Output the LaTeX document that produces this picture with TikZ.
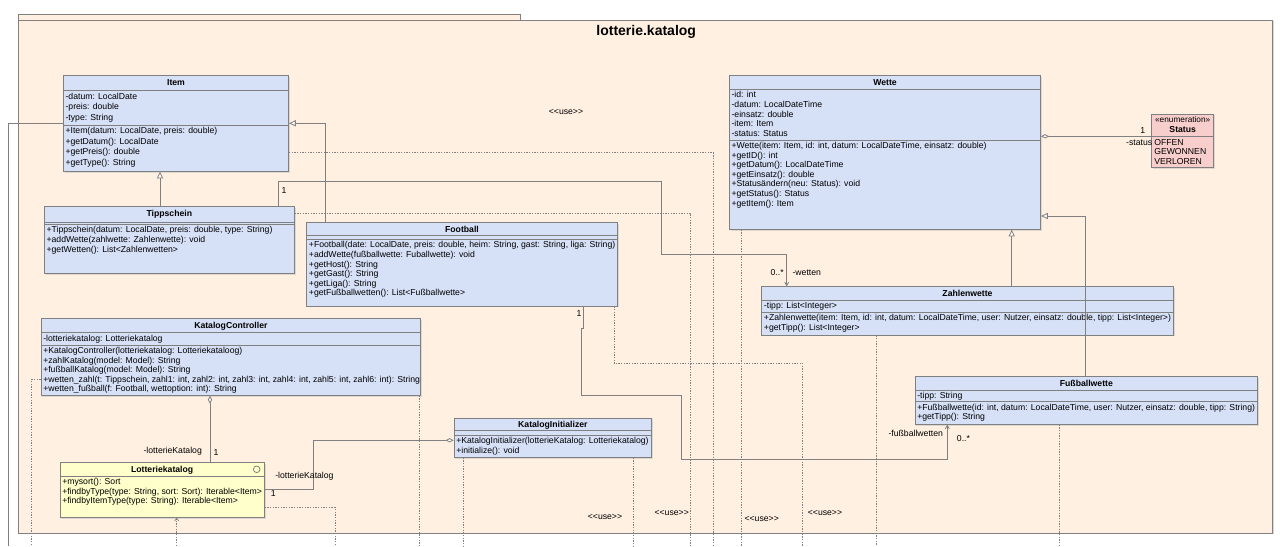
\documentclass[tikz,border=0pt]{standalone}
\usepackage{fontspec}
\setmainfont{Liberation Sans}
\usetikzlibrary{arrows.meta, fit, shadows}

\definecolor{pkgfill}{RGB}{255,240,225}
\definecolor{classfill}{RGB}{214,224,247}
\definecolor{ifacefill}{RGB}{255,255,204}
\definecolor{enumfill}{RGB}{248,206,204}
\definecolor{umlgray}{RGB}{128,128,128}

\tikzstyle{pkgframe} = [rectangle, draw=umlgray, fill=pkgfill, inner sep=0pt, line width=0.6pt, drop shadow={shadow xshift=1pt, shadow yshift=-1pt, fill=black!30}]
\tikzstyle{pkgtab} = [rectangle, draw=umlgray, fill=pkgfill, inner sep=0pt, line width=0.6pt]
\tikzstyle{pkgtitle} = [anchor=base, inner sep=0pt, font=\fontsize{10.5}{12}\selectfont\bfseries]
\tikzstyle{pclass} = [rectangle, draw=umlgray, fill=classfill, inner sep=0pt, line width=0.6pt, drop shadow={shadow xshift=1pt, shadow yshift=-1pt, fill=black!25}]
\tikzstyle{pface} = [pclass, fill=ifacefill]
\tikzstyle{penum} = [pclass, fill=enumfill]
\tikzstyle{ctitle} = [anchor=base, inner sep=0pt, font=\fontsize{6.5}{7.2}\selectfont\bfseries]
\tikzstyle{members} = [anchor=north west, align=left, inner sep=0pt, font=\fontsize{6.5}{7.2}\selectfont]
\tikzstyle{sepline} = [draw=umlgray, line width=0.6pt]
\tikzstyle{lbl} = [anchor=base west, inner sep=0pt, font=\fontsize{6.5}{7.2}\selectfont]
\tikzstyle{uselbl} = [inner sep=0pt, font=\fontsize{6.5}{7}\selectfont]
\tikzstyle{link} = [draw=umlgray, line width=0.6pt]
\tikzstyle{inherit} = [link, -{Triangle[fill=white, length=5pt, width=4.6pt]}]
\tikzstyle{assoc} = [link, -{Straight Barb[length=2.5pt, width=3pt]}]
\tikzstyle{aggr} = [link, {Diamond[fill=white, length=6pt, width=3.2pt]}-]
\tikzstyle{usedep} = [draw=umlgray, line width=0.5pt, dash pattern=on 1pt off 1pt]

\begin{document}
\begin{tikzpicture}[x=0.75pt, y=-0.75pt]
\useasboundingbox (0,0) rectangle (1284,546);
\coordinate (bottom) at (0,546);

% package
\node (pkgtab) [pkgtab, fit={(18,14) (520,20)}] {};
\node (pkg) [pkgframe, fit={(18,20) (1272.7,533)}] {};
\node (pkgname) [pkgtitle] at (646.2,35) {lotterie.katalog};

% Item
\node (item) [pclass, fit={(63.3,75.3) (288.7,171.3)}] {};
\node (itemname) [ctitle] at (item.north |- 0,85.7) {Item};
\draw [sepline] (item.west |- 0,90) -- (item.east |- 0,90);
\draw [sepline] (item.west |- 0,125.3) -- (item.east |- 0,125.3);
\node (itemattr) [members, font=\fontsize{6.5}{7.7}\selectfont] at (65.3,93) {-datum: LocalDate\\-preis: double\\-type: String};
\node (itemops) [members, font=\fontsize{6.5}{7.9}\selectfont] at (65.3,127.3) {+Item(datum: LocalDate, preis: double)\\+getDatum(): LocalDate\\+getPreis(): double\\+getType(): String};

% Tippschein
\node (tipp) [pclass, fit={(44.3,206.7) (294.3,273.3)}] {};
\node (tippname) [ctitle] at (tipp.north |- 0,216.7) {Tippschein};
\draw [sepline] (tipp.west |- 0,222.7) -- (tipp.east |- 0,222.7);
\draw [sepline] (tipp.west |- 0,224.3) -- (tipp.east |- 0,224.3);
\node (tippops) [members] at (46.3,226.3) {+Tippschein(datum: LocalDate, preis: double, type: String)\\+addWette(zahlwette: Zahlenwette): void\\+getWetten(): List<Zahlenwetten>};

% Football
\node (football) [pclass, fit={(306.7,222.7) (617.3,306)}] {};
\node (footballname) [ctitle] at (football.north |- 0,232) {Football};
\draw [sepline] (football.west |- 0,235) -- (football.east |- 0,235);
\draw [sepline] (football.west |- 0,239.3) -- (football.east |- 0,239.3);
\node (footballops) [members] at (308.7,241.3) {+Football(date: LocalDate, preis: double, heim: String, gast: String, liga: String)\\+addWette(fußballwette: Fuballwette): void\\+getHost(): String\\+getGast(): String\\+getLiga(): String\\+getFußballwetten(): List<Fußballwette>};

% KatalogController
\node (controller) [pclass, fit={(41,318.3) (420.7,395.3)}] {};
\node (controllername) [ctitle] at (controller.north |- 0,328) {KatalogController};
\draw [sepline] (controller.west |- 0,332.7) -- (controller.east |- 0,332.7);
\draw [sepline] (controller.west |- 0,345) -- (controller.east |- 0,345);
\node (controllerattr) [members] at (43,334.7) {-lotteriekatalog: Lotteriekatalog};
\node (controllerops) [members] at (43,347) {+KatalogController(lotteriekatalog: Lotteriekataloog)\\+zahlKatalog(model: Model): String\\+fußballKatalog(model: Model): String\\+wetten\_zahl(t: Tippschein, zahl1: int, zahl2: int, zahl3: int, zahl4: int, zahl5: int, zahl6: int): String\\+wetten\_fußball(f: Football, wettoption: int): String};

% Lotteriekatalog
\node (katalog) [pface, fit={(60,462.3) (264.3,517.3)}] {};
\node (katalogname) [ctitle] at (katalog.north |- 0,472.3) {Lotteriekatalog};
\draw [sepline] (katalog.west |- 0,476) -- (katalog.east |- 0,476);
\draw [sepline] (256.7,469.3) circle [radius=3.3];
\node (katalogops) [members] at (62,478) {+mysort(): Sort\\+findbyType(type: String, sort: Sort): Iterable<Item>\\+findbyItemType(type: String): Iterable<Item>};

% KatalogInitializer
\node (initializer) [pclass, fit={(454,418) (651.7,457.3)}] {};
\node (initializername) [ctitle] at (initializer.north |- 0,427) {KatalogInitializer};
\draw [sepline] (initializer.west |- 0,430) -- (initializer.east |- 0,430);
\draw [sepline] (initializer.west |- 0,435.3) -- (initializer.east |- 0,435.3);
\node (initializerops) [members] at (456,437.3) {+KatalogInitializer(lotterieKatalog: Lotteriekatalog)\\+initialize(): void};

% Wette
\node (wette) [pclass, fit={(729.3,75.3) (1040.7,229.3)}] {};
\node (wettename) [ctitle] at (wette.north |- 0,85) {Wette};
\draw [sepline] (wette.west |- 0,89.3) -- (wette.east |- 0,89.3);
\draw [sepline] (wette.west |- 0,140) -- (wette.east |- 0,140);
\node (wetteattr) [members] at (731.3,91.3) {-id: int\\-datum: LocalDateTime\\-einsatz: double\\-item: Item\\-status: Status};
\node (wetteops) [members] at (731.3,142) {+Wette(item: Item, id: int, datum: LocalDateTime, einsatz: double)\\+getID(): int\\+getDatum(): LocalDateTime\\+getEinsatz(): double\\+Statusändern(neu: Status): void\\+getStatus(): Status\\+getItem(): Item};

% Status
\node (status) [penum, fit={(1151.7,114) (1213.7,167.7)}] {};
\node (statusstereo) [anchor=base, inner sep=0pt, font=\fontsize{6.2}{7}\selectfont] at (status.north |- 0,122.5) {«enumeration»};
\node (statusname) [ctitle] at (status.north |- 0,132) {Status};
\draw [sepline] (status.west |- 0,136.7) -- (status.east |- 0,136.7);
\node (statuslits) [members, font=\fontsize{6.5}{7.05}\selectfont] at (1154,139.2) {OFFEN\\GEWONNEN\\VERLOREN};

% Zahlenwette
\node (zahlwette) [pclass, fit={(761.7,286.7) (1173.3,335)}] {};
\node (zahlwettename) [ctitle] at (zahlwette.north |- 0,296.3) {Zahlenwette};
\draw [sepline] (zahlwette.west |- 0,300) -- (zahlwette.east |- 0,300);
\draw [sepline] (zahlwette.west |- 0,312.3) -- (zahlwette.east |- 0,312.3);
\node (zahlwetteattr) [members] at (763.7,302) {-tipp: List<Integer>};
\node (zahlwetteops) [members] at (763.7,314.3) {+Zahlenwette(item: Item, id: int, datum: LocalDateTime, user: Nutzer, einsatz: double, tipp: List<Integer>)\\+getTipp(): List<Integer>};

% Fussballwette
\node (fwette) [pclass, fit={(915,376.7) (1257.7,424.3)}] {};
\node (fwettename) [ctitle] at (fwette.north |- 0,386.3) {Fußballwette};
\draw [sepline] (fwette.west |- 0,390) -- (fwette.east |- 0,390);
\draw [sepline] (fwette.west |- 0,401.7) -- (fwette.east |- 0,401.7);
\node (fwetteattr) [members] at (917,392) {-tipp: String};
\node (fwetteops) [members] at (917,403.7) {+Fußballwette(id: int, datum: LocalDateTime, user: Nutzer, einsatz: double, tipp: String)\\+getTipp(): String};

% generalizations
\draw [inherit] (tipp.north -| 160,0) -- (item.south -| 160,0);
\draw [inherit] (football.north -| 325.3,0) |- (item.east |- 0,123.3);
\draw [inherit] (zahlwette.north -| 1011.7,0) -- (wette.south -| 1011.7,0);
\draw [inherit] (fwette.north -| 1085.7,0) |- (wette.east |- 0,216);

% associations
\draw [assoc] (tipp.north -| 278,0) |- (661.7,181.3) |- (786.7,254.3) -- (zahlwette.north -| 786.7,0);
\draw [assoc] (football.south -| 583.3,0) -- (583.3,328) -- (581.7,328) |- (681,395.3) |- (947.3,459.3) -- (fwette.south -| 947.3,0);
\draw [aggr] (controller.south -| 210,0) -- (katalog.north -| 210,0);
\draw [aggr] (initializer.west |- 0,440.3) -| (313.3,489.3) -- (katalog.east |- 0,489.3);
\draw [aggr] (wette.east |- 0,136.3) -- (status.west |- 0,136.3);
\draw [link] (item.west |- 0,123.3) -| (bottom -| 8.3,0);

% dependencies
\draw [usedep] (item.east |- 0,152.7) -| (bottom -| 713.3,0);
\draw [usedep] (tipp.east |- 0,213) -| (bottom -| 690.7,0);
\draw [usedep] (wette.south -| 741.7,0) -- (bottom -| 741.7,0);
\draw [usedep] (football.south -| 614,0) |- (802.7,363.3) -- (bottom -| 802.7,0);
\draw [usedep] (zahlwette.south -| 876,0) -- (bottom -| 876,0);
\draw [usedep] (fwette.south -| 1059,0) -- (bottom -| 1059,0);
\draw [usedep] (initializer.south -| 463.3,0) -- (bottom -| 463.3,0);
\draw [usedep] (initializer.south -| 633.3,0) -- (bottom -| 633.3,0);
\draw [usedep] (controller.west |- 0,379.3) -| (bottom -| 31.7,0);
\draw [usedep] (controller.south -| 419,0) -- (bottom -| 419,0);
\draw [usedep] (katalog.east |- 0,507.3) -| (bottom -| 335,0);
\draw [usedep, -{Straight Barb[length=2pt, width=3pt]}] (bottom -| 176.7,0) -- (katalog.south -| 176.7,0);

% labels
\node (tippmult) [lbl] at (281.3,193) {1};
\node (wettenmult) [lbl, anchor=base east] at (784,275.5) {0..*};
\node (wettenrole) [lbl] at (792.3,275.5) {-wetten};
\node (footmult) [lbl, anchor=base] at (579,316.5) {1};
\node (fwettenrole) [lbl] at (888.3,436.5) {-fußballwetten};
\node (fwettenmult) [lbl] at (956.7,441) {0..*};
\node (ctrlrole) [lbl] at (143.3,453.5) {-lotterieKatalog};
\node (ctrlmult) [lbl] at (213.3,455) {1};
\node (initrole) [lbl] at (275,478.5) {-lotterieKatalog};
\node (initmult) [lbl] at (270.7,496.5) {1};
\node (statusmult) [lbl, anchor=base] at (1142.7,133.5) {1};
\node (statusrole) [lbl, anchor=base east] at (1152.5,145) {-status};
\node (use1) [uselbl] at (566,112) {<{}<use>{}>};
\node (use2) [uselbl] at (605,517) {<{}<use>{}>};
\node (use3) [uselbl] at (671.7,512.7) {<{}<use>{}>};
\node (use4) [uselbl] at (761.7,519.3) {<{}<use>{}>};
\node (use5) [uselbl] at (825,512.7) {<{}<use>{}>};
\end{tikzpicture}
\end{document}
